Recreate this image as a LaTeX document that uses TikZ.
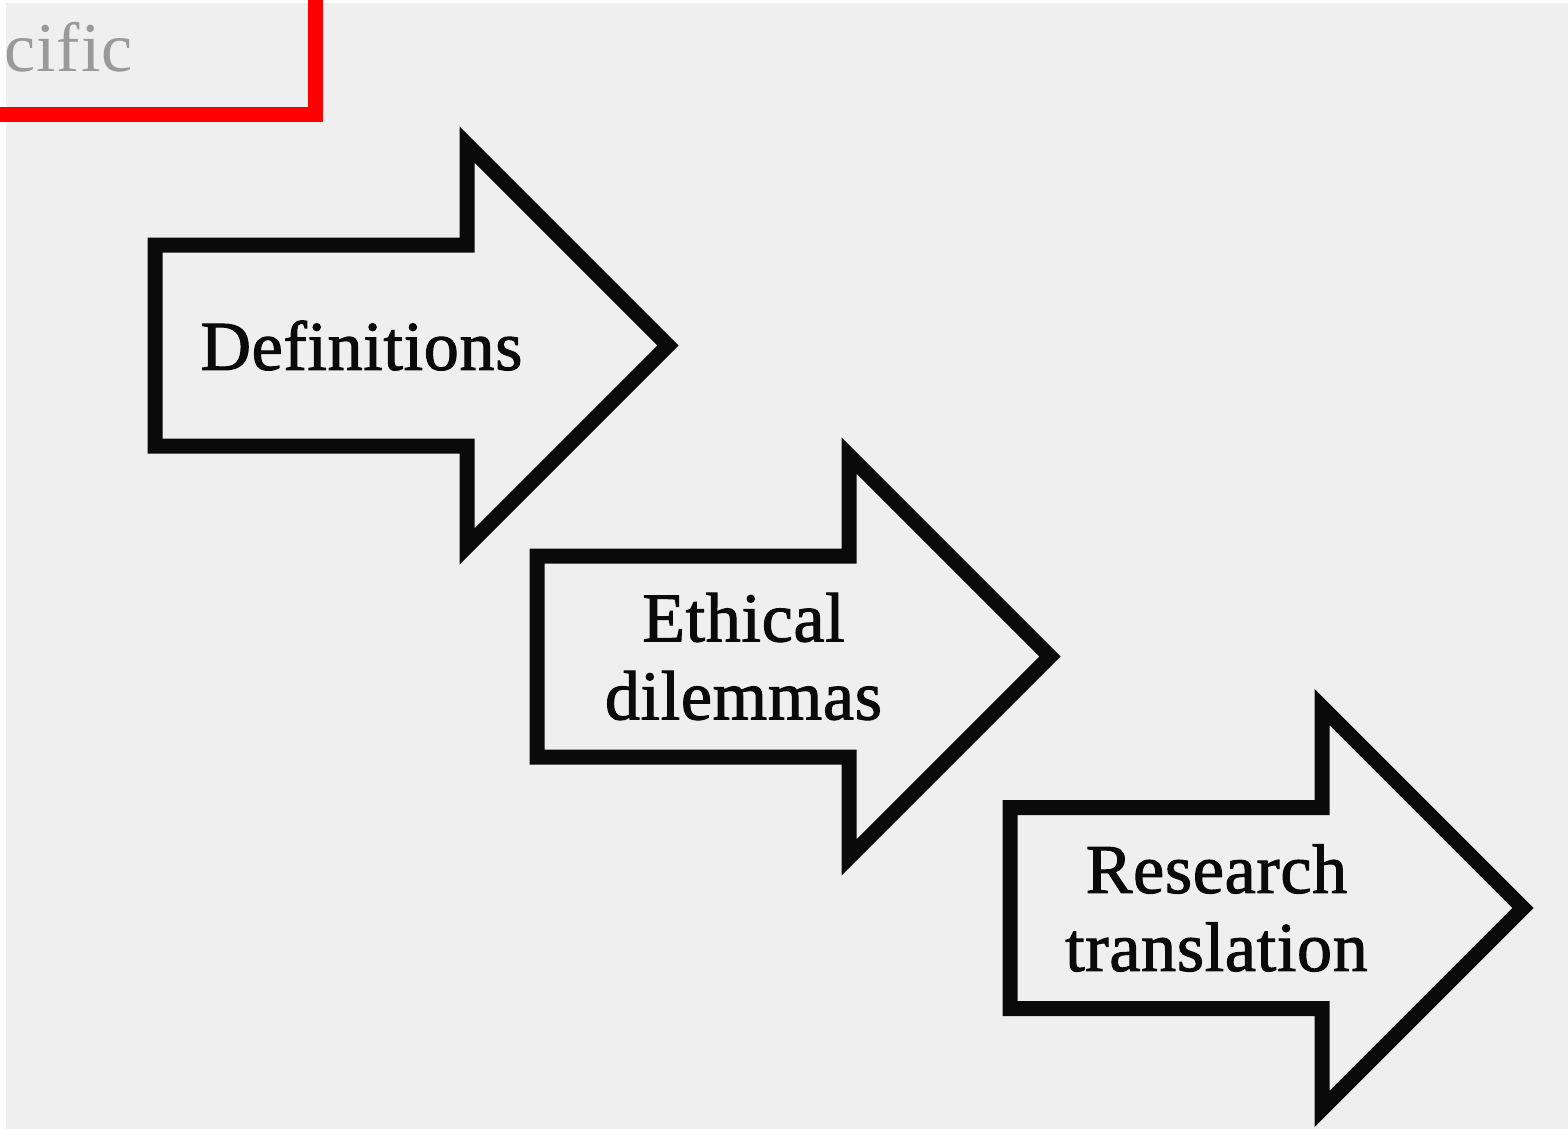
\documentclass[tikz,border=0pt]{standalone}
\usepackage{fontspec}
\setmainfont{Liberation Serif}
\newfontfamily\stepfont[FakeBold=1.5, LetterSpace=1]{Liberation Serif}
\newfontfamily\fadefont[LetterSpace=1.5]{Liberation Serif}
\usetikzlibrary{calc}
\definecolor{ink}{HTML}{0A0A0A}
\definecolor{paper}{HTML}{EFEFEF}
\definecolor{fade}{HTML}{9A9A9A}

\begin{document}
\begin{tikzpicture}[x=0.5pt, y=-0.5pt,
  steparrow/.style={draw=ink, line width=7.5pt, line join=miter},
  steptext/.style={text=ink, align=center, inner sep=0pt, font=\stepfont\fontsize{35}{39}\selectfont}]

  \useasboundingbox (0,0) rectangle (1568,1129);
  \fill[white] (0,0) rectangle (1568,1129);
  \fill[paper] (6,3) rectangle (1568,1129);

  % Cut-off box in the corner
  \begin{scope}
    \clip (0,0) rectangle (1568,1129);
    \draw[red, line width=7.5pt] (-10,114.5) -- (315,114.5) -- (315,-10);
  \end{scope}
  \node[anchor=base west, inner sep=0pt, text=fade, font=\fadefont\fontsize{35}{39}\selectfont] (spec) at (4,72) {cific};

  % Arrow starts
  \coordinate (S1) at (155,345.5);
  \coordinate (S2) at (537,656.5);
  \coordinate (S3) at (1010,908);

  % Arrows
  \draw[steparrow] ($(S1)+(0,-100.5)$) -- ++(312,0) -- ++(0,-100.5) -- ++(201,201) -- ++(-201,201) -- ++(0,-100.5) -- ++(-312,0) -- cycle;
  \draw[steparrow] ($(S2)+(0,-100.5)$) -- ++(312,0) -- ++(0,-100.5) -- ++(201,201) -- ++(-201,201) -- ++(0,-100.5) -- ++(-312,0) -- cycle;
  \draw[steparrow] ($(S3)+(0,-100.5)$) -- ++(312,0) -- ++(0,-100.5) -- ++(201,201) -- ++(-201,201) -- ++(0,-100.5) -- ++(-312,0) -- cycle;

  % Labels
  \node[steptext] (def) at ($(S1)+(206.5,0)$) {Definitions};
  \node[steptext] (eth) at ($(S2)+(206.5,0)$) {Ethical\\dilemmas};
  \node[steptext] (res) at ($(S3)+(206.5,0)$) {Research\\translation};

\end{tikzpicture}
\end{document}
